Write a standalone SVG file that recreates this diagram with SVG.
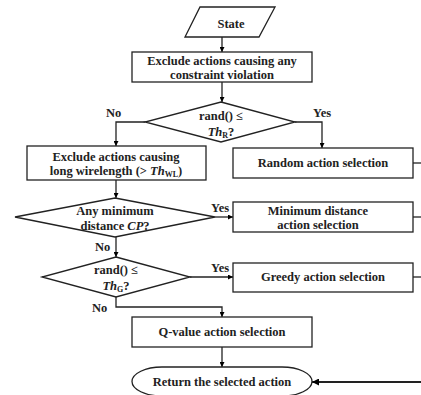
<svg xmlns="http://www.w3.org/2000/svg" width="421" height="395" viewBox="0 0 421 395">
<defs>
<marker id="ah" viewBox="0 0 10 10" refX="10" refY="5" markerWidth="5" markerHeight="5" markerUnits="userSpaceOnUse" orient="auto">
<path d="M0,0 L10,5 L0,10 z" fill="#000"/>
</marker>
<marker id="ahb" viewBox="0 0 10 10" refX="10" refY="5" markerWidth="7" markerHeight="7" markerUnits="userSpaceOnUse" orient="auto">
<path d="M0,0 L10,5 L0,10 z" fill="#000"/>
</marker>
</defs>
<style>
.s{fill:#fff;stroke:#222;stroke-width:1.3}
.c{fill:none;stroke:#222;stroke-width:1.3}
.t{font-family:"Liberation Serif","Times New Roman",serif;font-weight:bold;font-size:12.5px;fill:#222;text-anchor:middle}
.l{font-family:"Liberation Serif","Times New Roman",serif;font-weight:bold;font-size:12.5px;fill:#222}
</style>
<rect width="421" height="395" fill="#fff"/>
<g id="connectors">
<path class="c" d="M222,37 V52" marker-end="url(#ah)"/>
<path class="c" d="M222,82 V102" marker-end="url(#ah)"/>
<path class="c" d="M145,122 H116 V146" marker-end="url(#ah)"/>
<path class="c" d="M295,122 H322 V148" marker-end="url(#ah)"/>
<path class="c" d="M116,180 V198" marker-end="url(#ah)"/>
<path class="c" d="M215,217 H233" marker-end="url(#ah)"/>
<path class="c" d="M116,237 V257" marker-end="url(#ah)"/>
<path class="c" d="M190,277 H233" marker-end="url(#ah)"/>
<path class="c" d="M116,297 V307 H222 V317" marker-end="url(#ah)"/>
<path class="c" d="M222,347 V367" marker-end="url(#ah)"/>
<path class="c" d="M413,163 H421"/>
<path class="c" d="M413,217 H421"/>
<path class="c" d="M413,277 H421"/>
<path class="c" d="M421,382 H312" style="stroke-width:2.2" marker-end="url(#ahb)"/>
<text class="l" x="106" y="117">No</text>
<text class="l" x="313" y="117">Yes</text>
<text class="l" x="211" y="212">Yes</text>
<text class="l" x="95" y="251">No</text>
<text class="l" x="211" y="272">Yes</text>
<text class="l" x="92" y="312">No</text>
</g>
<g id="state">
<path class="s" d="M200,7 H275 L259,37 H185 Z"/>
<text class="t" x="231" y="28">State</text>
</g>
<g id="exclude-constraint">
<rect class="s" x="132" y="52" width="180" height="30"/>
<text class="t" x="222" y="65">Exclude actions causing any</text>
<text class="t" x="222" y="79">constraint violation</text>
</g>
<g id="decision-r">
<path class="s" d="M221,102 L295,122 L221,142 L145,122 Z"/>
<text class="t" x="221" y="120">rand() ≤</text>
<text class="t" x="221" y="136"><tspan font-style="italic">Th</tspan><tspan font-size="8" dy="2">R</tspan><tspan dy="-2">?</tspan></text>
</g>
<g id="exclude-wirelength">
<rect class="s" x="27" y="146" width="179" height="34"/>
<text class="t" x="116" y="161">Exclude actions causing</text>
<text class="t" x="116" y="175">long wirelength (&gt; <tspan font-style="italic">Th</tspan><tspan font-size="8" dy="2">WL</tspan><tspan dy="-2">)</tspan></text>
</g>
<g id="random">
<rect class="s" x="233" y="148" width="180" height="30"/>
<text class="t" x="323" y="167">Random action selection</text>
</g>
<g id="decision-cp">
<path class="s" d="M115,198 L215,217 L115,237 L15,217 Z"/>
<text class="t" x="115" y="215">Any minimum</text>
<text class="t" x="115" y="230">distance <tspan font-style="italic">CP</tspan>?</text>
</g>
<g id="min-distance">
<rect class="s" x="233" y="202" width="180" height="30"/>
<text class="t" x="318" y="215">Minimum distance</text>
<text class="t" x="318" y="229">action selection</text>
</g>
<g id="decision-g">
<path class="s" d="M116,257 L190,277 L116,297 L42,277 Z"/>
<text class="t" x="116" y="274">rand() ≤</text>
<text class="t" x="116" y="290"><tspan font-style="italic">Th</tspan><tspan font-size="8" dy="2">G</tspan><tspan dy="-2">?</tspan></text>
</g>
<g id="greedy">
<rect class="s" x="233" y="263" width="180" height="29"/>
<text class="t" x="323" y="281">Greedy action selection</text>
</g>
<g id="qvalue">
<rect class="s" x="132" y="317" width="180" height="30"/>
<text class="t" x="222" y="336">Q-value action selection</text>
</g>
<g id="return">
<rect class="s" x="132" y="367" width="180" height="29" rx="30" ry="14.5"/>
<text class="t" x="222" y="386">Return the selected action</text>
</g>
</svg>
